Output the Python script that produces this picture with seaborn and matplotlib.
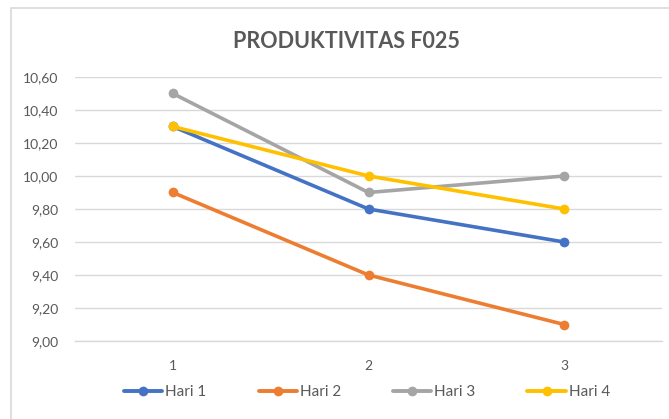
import matplotlib
matplotlib.use("Agg")
import matplotlib.pyplot as plt
import matplotlib.patches as mpatches
import seaborn as sns
import pandas as pd

categories = ["1", "2", "3"]
series_names = ["Hari 1", "Hari 2", "Hari 3", "Hari 4"]
hari1 = [10.3, 9.8, 9.6]
hari2 = [9.9, 9.4, 9.1]
hari3 = [10.5, 9.9, 10.0]
hari4 = [10.3, 10.0, 9.8]
yticks = [9.0, 9.2, 9.4, 9.6, 9.8, 10.0, 10.2, 10.4, 10.6]
colors = ["#4472C4", "#ED7D31", "#A5A5A5", "#FFC000"]

rows = []
for name, vals in zip(series_names, [hari1, hari2, hari3, hari4]):
    for i, v in enumerate(vals):
        rows.append({"x": i, "value": v, "series": name})
df = pd.DataFrame(rows)

sns.set_theme(style="white")
plt.rcParams["font.family"] = ["Lato", "DejaVu Sans"]

fig = plt.figure(figsize=(6.69, 4.19), dpi=100)
ax = fig.add_axes([75/669, 1-341/419, (662-75)/669, (341-77)/419])

sns.lineplot(data=df, x="x", y="value", hue="series", palette=colors,
             marker="o", markersize=7, markeredgewidth=0, linewidth=2.6,
             ax=ax, legend=False)

ax.set_xlim(-0.5, 2.5)
ax.set_ylim(9.0, 10.6)
ax.set_xticks(range(len(categories)))
ax.set_xticklabels(categories)
ax.set_yticks(yticks)
ax.set_yticklabels([f"{t:.2f}".replace(".", ",") for t in yticks])
ax.tick_params(axis="both", length=0, labelsize=10, colors="#595959")
ax.tick_params(axis="x", pad=14)
ax.tick_params(axis="y", pad=12)
ax.set_xlabel("")
ax.set_ylabel("")
ax.grid(axis="y", color="#D9D9D9", linewidth=1)
ax.set_axisbelow(True)
for s in ["top", "right", "left"]:
    ax.spines[s].set_visible(False)
ax.spines["bottom"].set_color("#D9D9D9")
ax.spines["bottom"].set_linewidth(1)

fig.text(346/669, 1-41/419, "PRODUKTIVITAS F025", ha="center", va="center",
         fontsize=15.5, fontweight="bold", color="#595959")

handles = [plt.Line2D([], [], color=c, marker="o", markersize=7, markeredgewidth=0,
                      linewidth=2.8) for c in colors]
fig.legend(handles, series_names, loc="center", bbox_to_anchor=(367/669, 1-392/419),
           ncol=4, frameon=False, fontsize=11, handlelength=2.5, handletextpad=0.2,
           columnspacing=3.4, labelcolor="#595959", borderpad=0, borderaxespad=0)

rect = mpatches.Rectangle((11/669, -0.1), 2, 1-8/419+0.1, transform=fig.transFigure,
                          fill=False, edgecolor="#D9D9D9", linewidth=1.2)
fig.patches.append(rect)

fig.savefig("out.png", dpi=100)
